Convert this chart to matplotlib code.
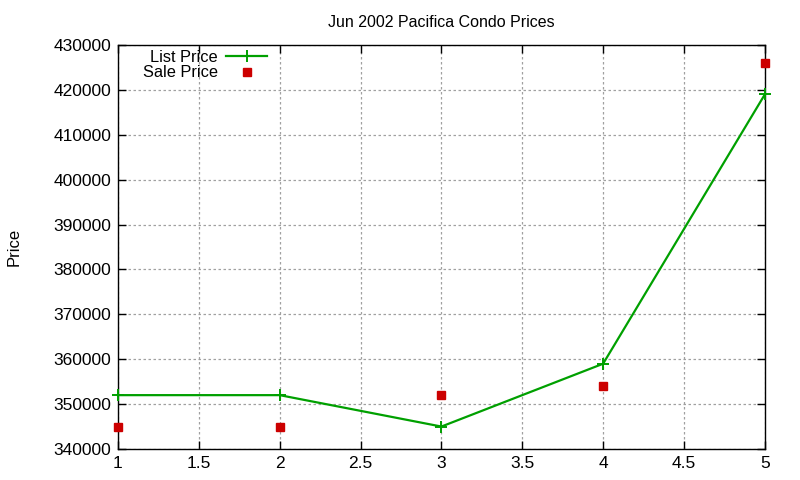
import matplotlib
matplotlib.use("Agg")
from matplotlib import pyplot as plt

x = [1, 2, 3, 4, 5]
list_price = [352000, 352000, 345000, 359000, 419000]
sale_price = [345000, 345000, 352000, 354000, 426000]

plt.rcParams['font.family'] = ['Liberation Sans', 'DejaVu Sans']
plt.rcParams['font.size'] = 12

fig = plt.figure(figsize=(8, 4.8), dpi=100)
ax = fig.add_axes([0.1475, 0.0646, 0.8085, 0.8414])

ax.plot(x, list_price, color='#00a000', lw=1.6, marker='+', ms=8, mew=1.4,
        label='List Price', clip_on=False, zorder=3)
ax.plot(x, sale_price, ls='none', marker='s', ms=5.8, color='#cc0000',
        label='Sale Price', clip_on=False, zorder=3)

ax.set_xlim(1, 5)
ax.set_ylim(340000, 430000)
ax.set_xticks([1, 1.5, 2, 2.5, 3, 3.5, 4, 4.5, 5])
ax.set_xticklabels(['1', '1.5', '2', '2.5', '3', '3.5', '4', '4.5', '5'])
ax.set_yticks(range(340000, 430001, 10000))
ax.grid(True, color='#a0a0a0', ls=(0, (2, 2)), lw=0.9)
ax.tick_params(direction='in', top=True, right=True, length=6, width=1,
               labelsize=12.5, pad=5)
for s in ax.spines.values():
    s.set_linewidth(1)

ax.set_title('Jun 2002 Pacifica Condo Prices', fontsize=11.5, pad=13)
ax.set_ylabel('Price', fontsize=12, labelpad=23)

ax.legend(loc='upper left', frameon=False, markerfirst=False, handlelength=2.5,
          borderaxespad=0.1, bbox_to_anchor=(0.026, 1.008), labelspacing=0.02,
          handletextpad=0.5, fontsize=11.8)

fig.savefig('out.png', dpi=100)
